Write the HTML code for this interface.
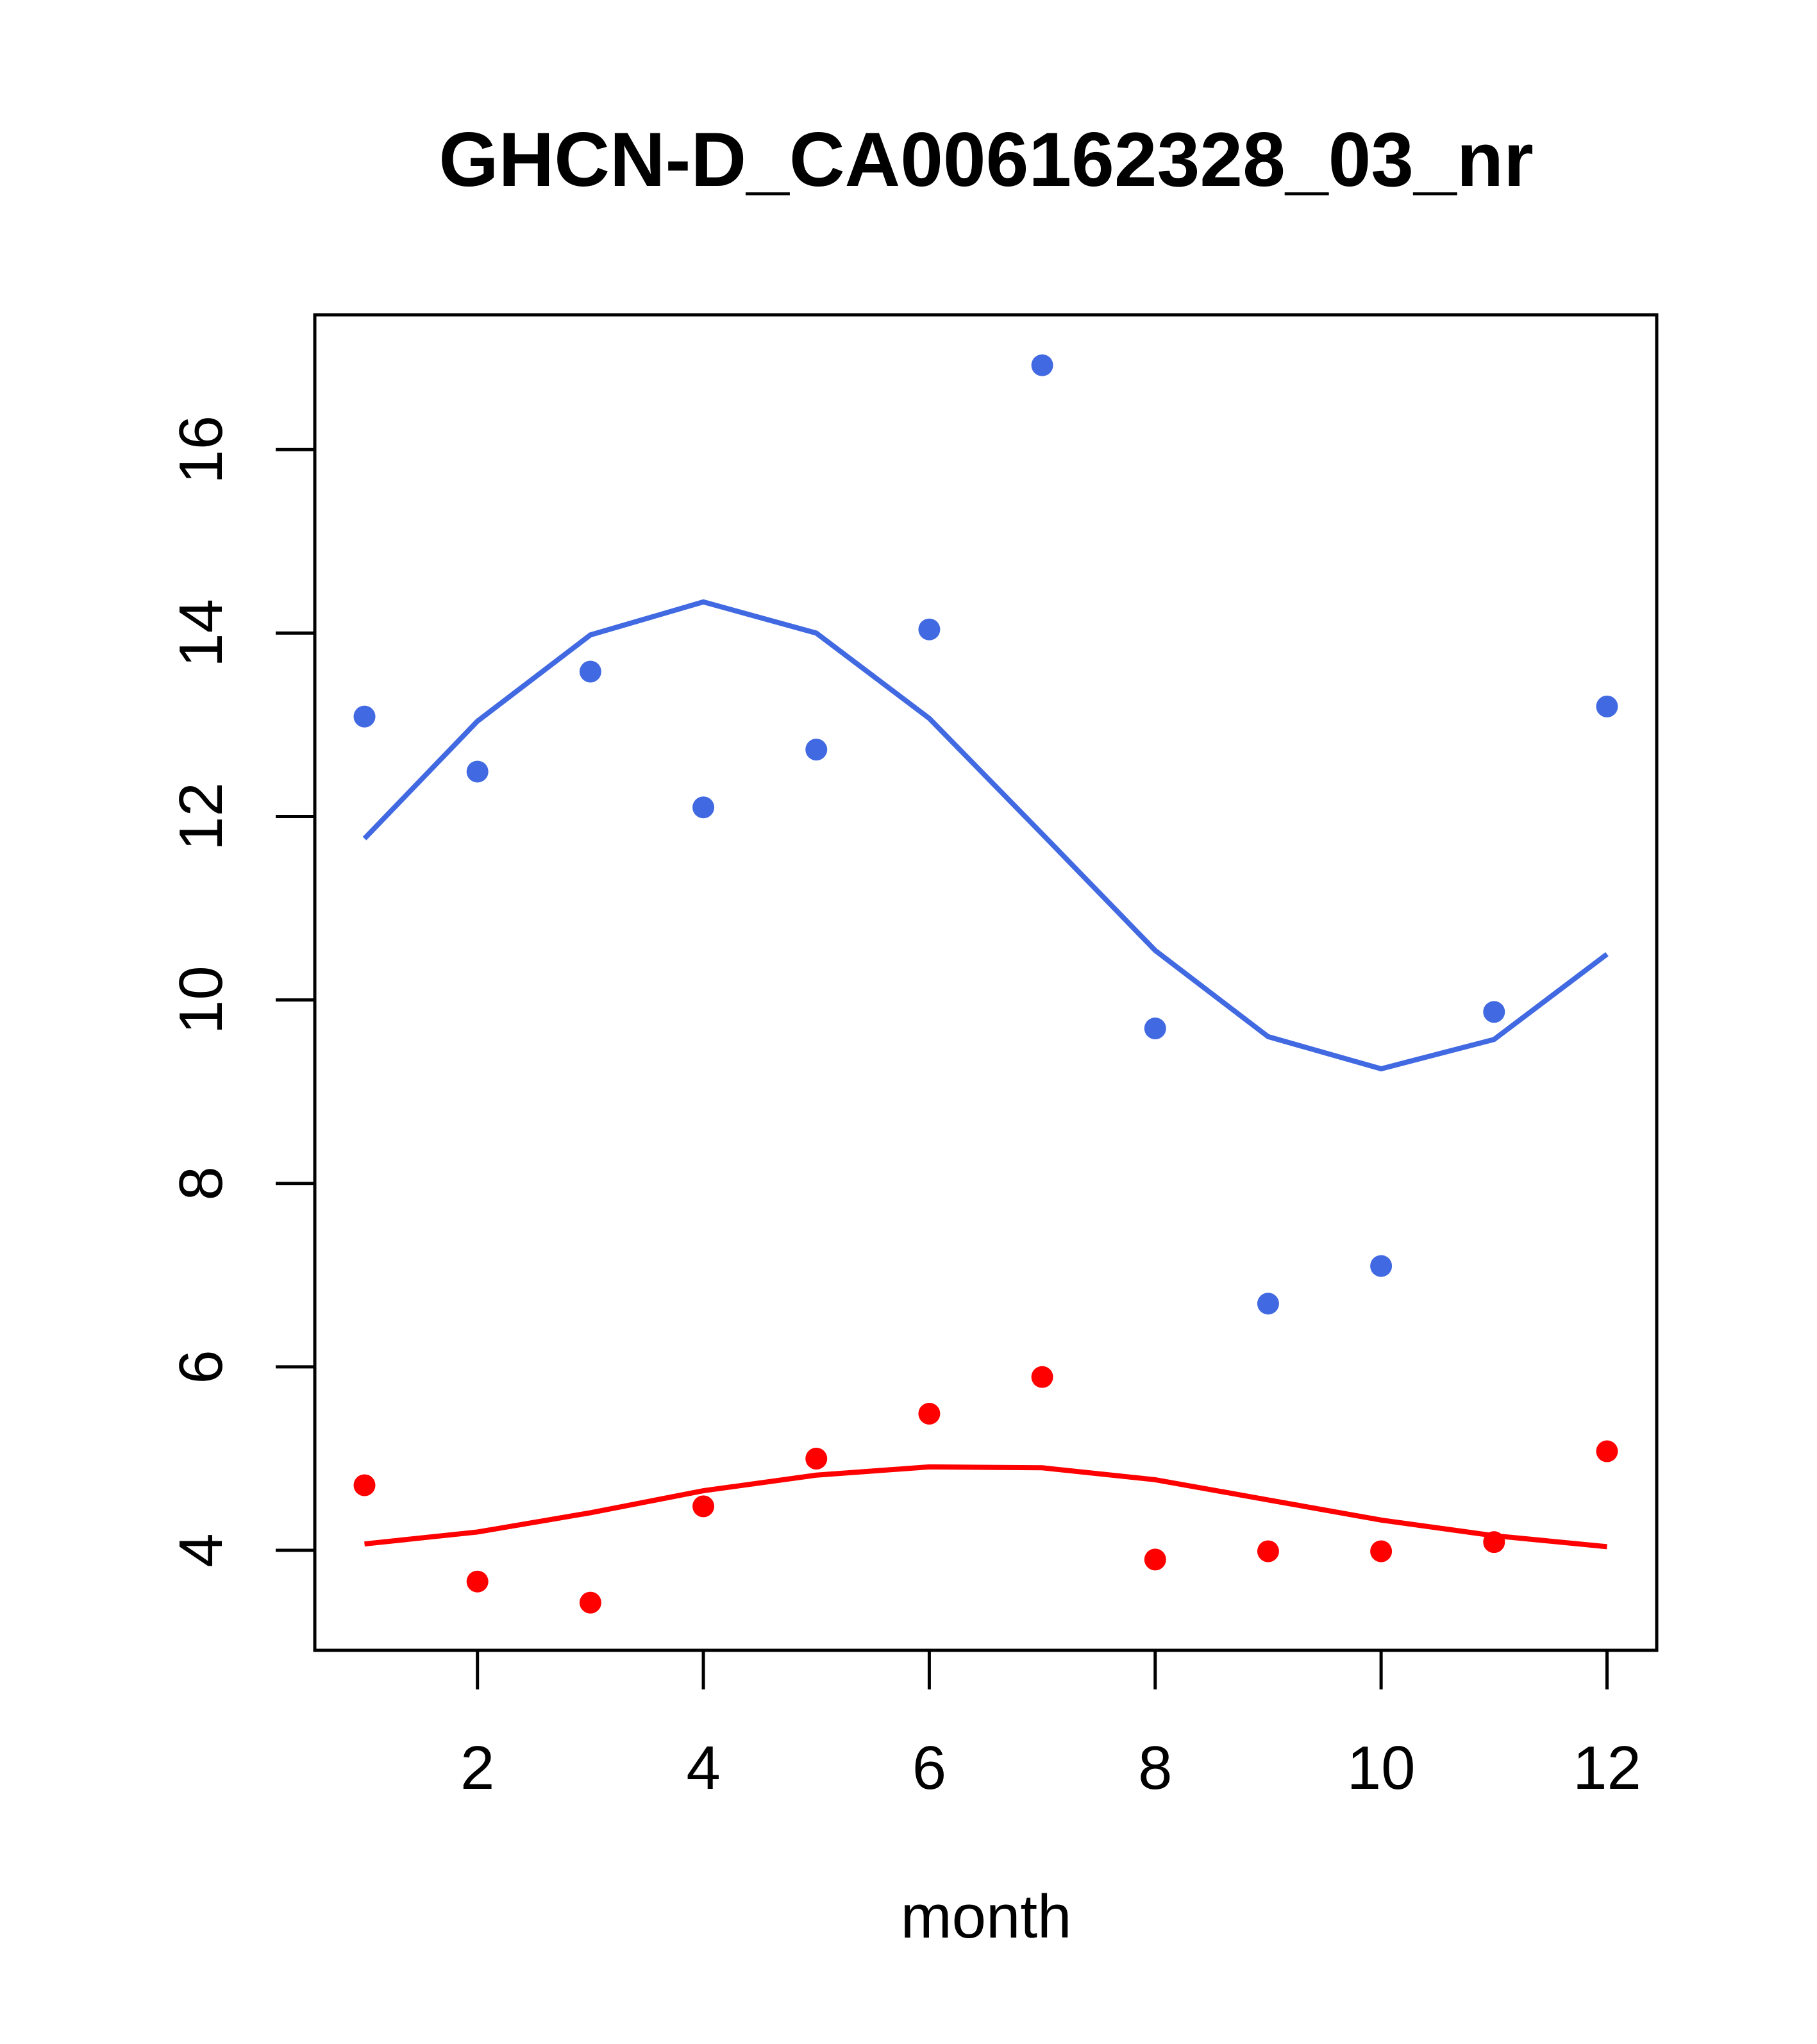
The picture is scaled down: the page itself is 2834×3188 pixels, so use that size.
<!DOCTYPE html>
<html><head><meta charset="utf-8"><style>html,body{margin:0;padding:0;background:#fff}svg{display:block}</style></head>
<body>
<svg id="chart" width="2834" height="3188" viewBox="0 0 2834 3188" xmlns="http://www.w3.org/2000/svg" font-family="Liberation Sans, sans-serif">
<rect width="2834" height="3188" fill="#fff"/>
<text x="1538" y="290" font-size="120" font-weight="bold" text-anchor="middle">GHCN-D_CA006162328_03_nr</text>
<text x="1538" y="3022" font-size="96" text-anchor="middle">month</text>
<g id="plot"></g>
</svg>
<script>
const months = [1,2,3,4,5,6,7,8,9,10,11,12];
const bluePoints = [13.09,12.49,13.58,12.10,12.73,14.04,16.92,9.69,6.69,7.10,9.87,13.20];
const blueLine = [11.76,13.04,13.98,14.34,14.0,13.07,11.81,10.54,9.60,9.25,9.57,10.50];
const redPoints = [4.71,3.66,3.43,4.48,5.0,5.49,5.89,3.90,3.99,3.99,4.09,5.08];
const redLine = [4.07,4.20,4.41,4.65,4.82,4.91,4.90,4.77,4.55,4.33,4.16,4.04];
const xTicks = [2,4,6,8,10,12];
const yTicks = [4,6,8,10,12,14,16];

const L=491,R=2584,T=491,B=2574;
const xMin=0.56,xMax=12.44,yMin=2.91,yMax=17.47;
const sx=v=>L+(v-xMin)/(xMax-xMin)*(R-L);
const sy=v=>B-(v-yMin)/(yMax-yMin)*(B-T);
const NS='http://www.w3.org/2000/svg';
const g=document.getElementById('plot');
function mk(tag,attrs){const e=document.createElementNS(NS,tag);for(const k in attrs)e.setAttribute(k,attrs[k]);g.appendChild(e);return e;}

let e=mk('rect',{x:L,y:T,width:R-L,height:B-T,fill:'none',stroke:'#000','stroke-width':5});



xTicks.forEach(t=>{
  const l=mk('line',{x1:sx(t),x2:sx(t),y1:B,y2:B+61,stroke:'#000','stroke-width':5});
  
  
  const tx=mk('text',{x:sx(t),y:2790,'font-size':96,'text-anchor':'middle'});
  tx.textContent=t;
  
  
});
yTicks.forEach(t=>{
  const l=mk('line',{x1:L-61,x2:L,y1:sy(t),y2:sy(t),stroke:'#000','stroke-width':5});
  
  
  const tx=mk('text',{x:0,y:0,'font-size':96,'text-anchor':'middle',transform:`translate(346,${sy(t)}) rotate(-90)`});
  tx.textContent=t;
  
  
});

function series(pts,line,color,name){
  const p=mk('polyline',{points:months.map((m,i)=>sx(m)+','+sy(line[i])).join(' '),fill:'none',stroke:color,'stroke-width':8});
  
  
  months.forEach((m,i)=>{
    const c=mk('circle',{cx:sx(m),cy:sy(pts[i]),r:17,fill:color});
    
    
  });
}
series(bluePoints,blueLine,'#4169E1','blue');
series(redPoints,redLine,'#FF0000','red');
</script>
</body></html>
